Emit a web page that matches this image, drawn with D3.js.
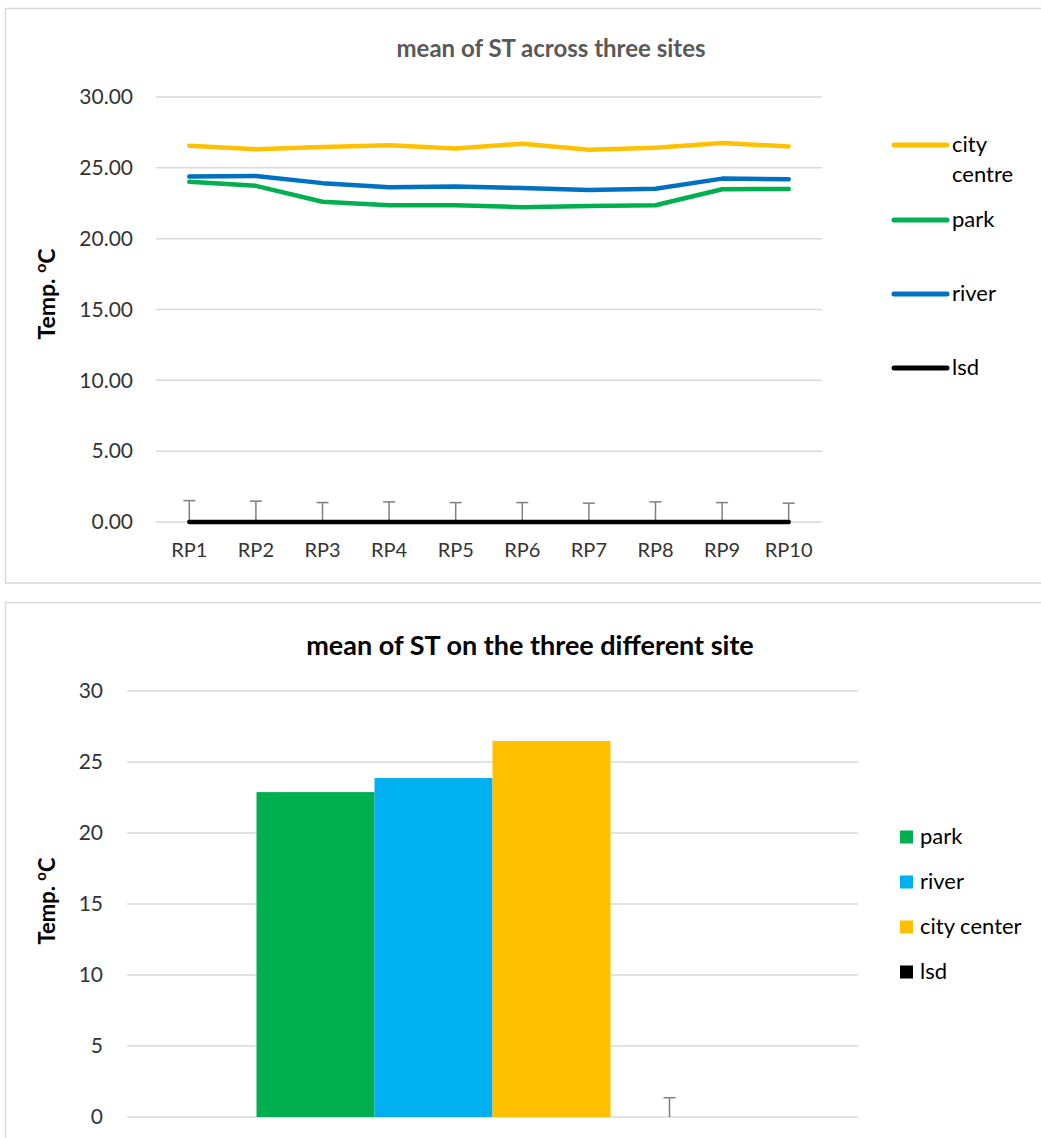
<!DOCTYPE html>
<html><head><meta charset="utf-8">
<script src="https://cdn.jsdelivr.net/npm/d3@7"></script>
<style>
body{margin:0;background:#fff;}
text{font-family:Lato,"Open Sans",sans-serif;}
</style></head>
<body>
<svg id="c" width="1041" height="1138"></svg>
<script>
// ---- data: top chart ----
const categories = ["RP1","RP2","RP3","RP4","RP5","RP6","RP7","RP8","RP9","RP10"];
const cityCentre = [26.56, 26.32, 26.47, 26.60, 26.37, 26.70, 26.27, 26.42, 26.75, 26.51];
const park = [24.01, 23.73, 22.61, 22.36, 22.36, 22.22, 22.31, 22.36, 23.49, 23.51];
const river = [24.38, 24.43, 23.92, 23.63, 23.68, 23.58, 23.44, 23.53, 24.24, 24.20];
const lsd = [0, 0, 0, 0, 0, 0, 0, 0, 0, 0];
const lsdError = [1.51, 1.47, 1.37, 1.42, 1.37, 1.37, 1.33, 1.42, 1.37, 1.33];
const topTicks = [0, 5, 10, 15, 20, 25, 30];
const topSeriesNames = ["city centre", "park", "river", "lsd"];

// ---- data: bottom chart ----
const barSeries = ["park", "river", "city center", "lsd"];
const barValues = [22.88, 23.87, 26.48, 0];
const barErrors = [null, null, null, 1.36];
const bottomTicks = [0, 5, 10, 15, 20, 25, 30];

const svg = d3.select("#c");
const gridColor = "#d9d9d9";
const textColor = "#333333";

// panel borders
svg.append("rect").attr("x",5.5).attr("y",8.5).attr("width",1060).attr("height",574.5)
  .attr("fill","none").attr("stroke",gridColor).attr("stroke-width",1.5);
svg.append("rect").attr("x",5.5).attr("y",602.5).attr("width",1060).attr("height",600)
  .attr("fill","none").attr("stroke",gridColor).attr("stroke-width",1.5);

// ================= TOP CHART =================
const xT = d3.scaleBand().domain(categories).range([156, 822]).padding(0);
const cx = c => xT(c) + xT.bandwidth()/2;
const yT = d3.scaleLinear().domain([0, 30]).range([522, 97]);

const gT = svg.append("g");
gT.append("g").selectAll("line").data(topTicks).join("line")
  .attr("x1",156).attr("x2",822)
  .attr("y1",d=>yT(d)).attr("y2",d=>yT(d))
  .attr("stroke",gridColor).attr("stroke-width",1.5);
const yAxisT = d3.axisLeft(yT).tickValues(topTicks).tickFormat(d3.format(".2f")).tickSize(0).tickPadding(0);
const yaT = gT.append("g").attr("transform","translate(133,0)").call(yAxisT);
yaT.select(".domain").remove();
yaT.selectAll("text").attr("font-size",21).attr("fill",textColor).attr("font-family","Lato");
const xAxisT = d3.axisBottom(xT).tickSize(0).tickPadding(0);
const xaT = gT.append("g").attr("transform","translate(0,543)").call(xAxisT);
xaT.select(".domain").remove();
xaT.selectAll("text").attr("font-size",20).attr("fill",textColor).attr("font-family","Lato");

gT.append("text").attr("x",551).attr("y",57).attr("text-anchor","middle")
  .attr("font-size",24).attr("font-weight","bold").attr("fill","#595959")
  .text("mean of ST across three sites");
const ytT = gT.append("text").attr("transform","translate(55,294) rotate(-90)")
  .attr("text-anchor","middle").attr("font-size",23).attr("font-weight","bold").attr("fill","#000");
ytT.append("tspan").text("Temp. ");
ytT.append("tspan").attr("baseline-shift","super").attr("font-size",16).text("o");
ytT.append("tspan").text("C");

const colorsT = {"city centre":"#FFC000","park":"#00B050","river":"#0070C0","lsd":"#000000"};
const seriesT = [cityCentre, park, river, lsd];
const line = d3.line().x((d,i)=>cx(categories[i])).y(d=>yT(d));

gT.append("g").selectAll("g").data(lsdError).join("g").each(function(e,i){
  const g = d3.select(this);
  const x = cx(categories[i]);
  g.append("line").attr("x1",x).attr("x2",x).attr("y1",yT(lsd[i])).attr("y2",yT(lsd[i]+e))
    .attr("stroke","#7f7f7f").attr("stroke-width",1.5);
  g.append("line").attr("x1",x-6).attr("x2",x+6).attr("y1",yT(lsd[i]+e)).attr("y2",yT(lsd[i]+e))
    .attr("stroke","#7f7f7f").attr("stroke-width",1.5);
});

seriesT.forEach((s,k)=>{
  gT.append("path").datum(s).attr("d",line).attr("fill","none")
    .attr("stroke",colorsT[topSeriesNames[k]]).attr("stroke-width",4.5)
    .attr("stroke-linejoin","round").attr("stroke-linecap","round");
});

const legTY = [145, 220, 294, 368];
topSeriesNames.forEach((n,k)=>{
  const y = legTY[k];
  gT.append("line").attr("x1",894).attr("x2",947).attr("y1",y).attr("y2",y)
    .attr("stroke",colorsT[n]).attr("stroke-width",5).attr("stroke-linecap","round");
  const t = gT.append("text").attr("x",952).attr("y",y+7).attr("font-size",22).attr("fill","#000");
  if (n === "city centre") {
    t.append("tspan").attr("x",952).text("city");
    t.append("tspan").attr("x",952).attr("dy",30).text("centre");
  } else t.text(n);
});

// ================= BOTTOM CHART =================
const yB = d3.scaleLinear().domain([0,30]).range([1117, 691]);
const xB = d3.scaleBand().domain(["group"]).range([127, 858]).paddingInner(0).paddingOuter(0.2744);
const xS = d3.scaleBand().domain(barSeries).range([xB("group"), xB("group")+xB.bandwidth()]).padding(0);
const colorsB = {"park":"#00B050","river":"#00B0F0","city center":"#FFC000","lsd":"#000000"};

const gB = svg.append("g");
gB.append("g").selectAll("line").data(bottomTicks).join("line")
  .attr("x1",127).attr("x2",858)
  .attr("y1",d=>yB(d)).attr("y2",d=>yB(d))
  .attr("stroke",gridColor).attr("stroke-width",1.5);
const yAxisB = d3.axisLeft(yB).tickValues(bottomTicks).tickFormat(d3.format("d")).tickSize(0).tickPadding(0);
const yaB = gB.append("g").attr("transform","translate(103,0)").call(yAxisB);
yaB.select(".domain").remove();
yaB.selectAll("text").attr("font-size",21).attr("fill",textColor).attr("font-family","Lato");

gB.append("text").attr("x",530).attr("y",655).attr("text-anchor","middle")
  .attr("font-size",27).attr("font-weight","bold").attr("fill","#000")
  .text("mean of ST on the three different site");
const ytB = gB.append("text").attr("transform","translate(55,901) rotate(-90)")
  .attr("text-anchor","middle").attr("font-size",22).attr("font-weight","bold").attr("fill","#000");
ytB.append("tspan").text("Temp. ");
ytB.append("tspan").attr("baseline-shift","super").attr("font-size",15).text("o");
ytB.append("tspan").text("C");

gB.append("g").selectAll("rect").data(barSeries).join("rect")
  .attr("x",d=>xS(d)).attr("width",xS.bandwidth())
  .attr("y",(d,i)=>yB(barValues[i])).attr("height",(d,i)=>yB(0)-yB(barValues[i]))
  .attr("fill",d=>colorsB[d]);

barSeries.forEach((d,i)=>{
  if (barErrors[i] == null) return;
  const x = xS(d) + xS.bandwidth()/2;
  const top = yB(barValues[i]+barErrors[i]);
  gB.append("line").attr("x1",x).attr("x2",x).attr("y1",yB(barValues[i])).attr("y2",top)
    .attr("stroke","#7f7f7f").attr("stroke-width",1.5);
  gB.append("line").attr("x1",x-6).attr("x2",x+6).attr("y1",top).attr("y2",top)
    .attr("stroke","#7f7f7f").attr("stroke-width",1.5);
});

const legBY = [837, 882, 927, 972];
barSeries.forEach((n,k)=>{
  const y = legBY[k];
  gB.append("rect").attr("x",900).attr("y",y-6.5).attr("width",13).attr("height",13).attr("fill",colorsB[n]);
  gB.append("text").attr("x",920).attr("y",y+7).attr("font-size",22).attr("fill","#000").text(n);
});
</script>
</body></html>
